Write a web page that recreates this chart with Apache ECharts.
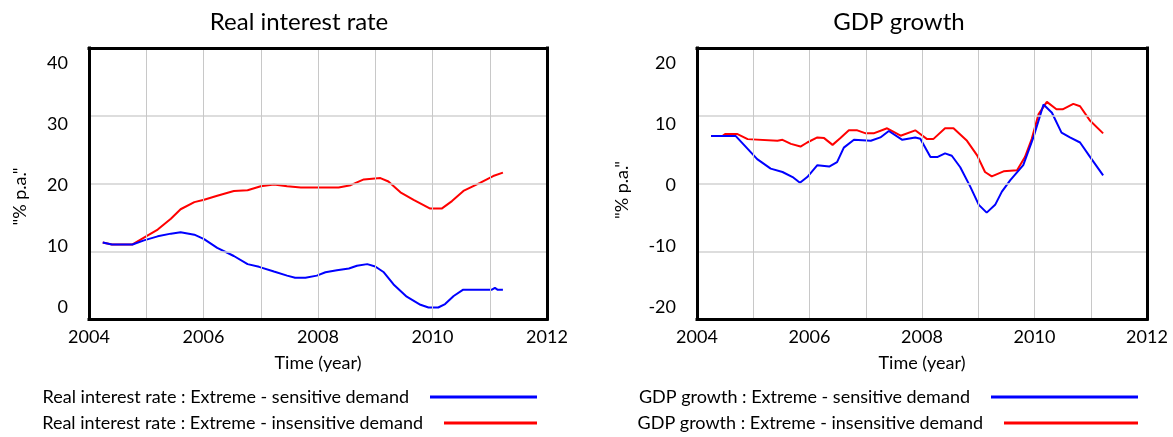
<!DOCTYPE html>
<html>
<head>
<meta charset="utf-8">
<script src="https://cdn.jsdelivr.net/npm/echarts@6/dist/echarts.min.js"></script>
<style>html,body{margin:0;padding:0;background:#fff}#c{width:1173px;height:437px}</style>
</head>
<body>
<div id="c"></div>
<script>
// ---- Data ----
const titles = ["Real interest rate", "GDP growth"];
const yAxisName = '"% p.a."';
const xAxisName = "Time (year)";
const xTicks = [2004, 2006, 2008, 2010, 2012];
const rateTicks = [0, 10, 20, 30, 40];
const gdpTicks = [-20, -10, 0, 10, 20];
const seriesNames = [
  "Real interest rate : Extreme - sensitive demand",
  "Real interest rate : Extreme - insensitive demand",
  "GDP growth : Extreme - sensitive demand",
  "GDP growth : Extreme - insensitive demand"
];
const rateSensitive = [[2004.24,11.3],[2004.4,11.0],[2004.76,11.0],[2004.96,11.6],[2005.2,12.2],[2005.43,12.6],[2005.6,12.8],[2005.84,12.45],[2006.01,11.8],[2006.24,10.5],[2006.53,9.3],[2006.77,8.1],[2006.97,7.7],[2007.23,7.0],[2007.46,6.4],[2007.6,6.1],[2007.78,6.1],[2007.98,6.4],[2008.13,6.9],[2008.33,7.2],[2008.54,7.45],[2008.68,7.85],[2008.86,8.1],[2009.0,7.75],[2009.15,6.9],[2009.32,5.1],[2009.55,3.3],[2009.79,2.1],[2009.93,1.7],[2010.1,1.7],[2010.22,2.2],[2010.37,3.4],[2010.53,4.3],[2011.03,4.3],[2011.09,4.6],[2011.14,4.3],[2011.23,4.3]];
const rateInsensitive = [[2004.24,11.3],[2004.4,11.0],[2004.76,11.0],[2004.96,12.0],[2005.2,13.2],[2005.43,14.8],[2005.6,16.2],[2005.84,17.25],[2006.01,17.6],[2006.24,18.2],[2006.53,18.9],[2006.77,19.0],[2007.0,19.6],[2007.23,19.85],[2007.46,19.6],[2007.7,19.4],[2008.36,19.4],[2008.57,19.75],[2008.8,20.6],[2009.09,20.8],[2009.23,20.3],[2009.44,18.7],[2009.67,17.6],[2009.96,16.3],[2010.16,16.3],[2010.34,17.4],[2010.54,18.9],[2010.83,20.1],[2011.06,21.1],[2011.23,21.6]];
const gdpSensitive = [[2004.25,7.0],[2004.69,7.0],[2004.93,4.85],[2005.07,3.6],[2005.31,2.2],[2005.52,1.7],[2005.7,0.95],[2005.83,0.1],[2005.96,0.95],[2006.14,2.7],[2006.35,2.5],[2006.49,3.15],[2006.61,5.3],[2006.79,6.45],[2007.09,6.3],[2007.26,6.8],[2007.41,7.75],[2007.65,6.45],[2007.88,6.8],[2007.97,6.6],[2008.15,3.9],[2008.27,3.9],[2008.41,4.45],[2008.53,4.1],[2008.68,2.4],[2008.86,-0.5],[2009.01,-3.15],[2009.15,-4.3],[2009.3,-3.15],[2009.42,-1.2],[2009.57,0.5],[2009.8,2.7],[2009.98,6.8],[2010.16,11.65],[2010.31,10.45],[2010.48,7.5],[2010.63,6.8],[2010.81,6.05],[2010.99,3.9],[2011.22,1.2]];
const gdpInsensitive = [[2004.25,7.0],[2004.45,7.0],[2004.5,7.3],[2004.72,7.3],[2004.9,6.55],[2005.43,6.3],[2005.52,6.45],[2005.67,5.85],[2005.84,5.45],[2005.96,6.05],[2006.14,6.8],[2006.26,6.7],[2006.41,5.7],[2006.55,6.7],[2006.7,7.85],[2006.85,7.85],[2007.0,7.4],[2007.14,7.4],[2007.38,8.15],[2007.62,7.05],[2007.88,7.85],[2008.09,6.55],[2008.2,6.55],[2008.41,8.15],[2008.56,8.15],[2008.8,6.3],[2008.98,4.15],[2009.12,1.7],[2009.24,1.05],[2009.45,1.8],[2009.69,1.95],[2009.83,3.9],[2009.95,6.55],[2010.07,10.2],[2010.22,12.05],[2010.39,10.95],[2010.5,10.95],[2010.69,11.75],[2010.81,11.4],[2010.99,9.25],[2011.22,7.4]];

// ---- Styling ----
const FONT = 'Lato';
const BLUE = '#0000ff', RED = '#ff0000';
const FRAME = {show: true, onZero: false, lineStyle: {color: '#000', width: 3, cap: 'square'}};
const grids = [
  {left: 89, top: 48, width: 458, height: 271},
  {left: 697, top: 48, width: 450, height: 271}
];
// label offsets (Vensim spreads y labels inside the frame)
const labelPads = [[0,0,24,0],[0,0,10,0],[3,0,0,0],[16,0,0,0],[30,0,0,0]];
const rich = {};
labelPads.forEach((p, i) => { rich['p' + i] = {padding: p, fontSize: 18, fontFamily: FONT, color: '#000'}; });

function xAxis(gi) {
  return {
    type: 'value', gridIndex: gi, position: 'bottom', min: xTicks[0], max: xTicks[xTicks.length - 1], interval: 1,
    name: xAxisName, nameLocation: 'middle', nameGap: 35,
    nameTextStyle: {fontFamily: FONT, fontSize: 18, color: '#000'},
    axisLine: FRAME, axisTick: {show: false}, z: 5,
    axisLabel: {margin: 9, fontFamily: FONT, fontSize: 18, color: '#000',
      formatter: v => xTicks.indexOf(v) >= 0 ? String(v) : ''},
    splitLine: {show: true, showMinLine: false, showMaxLine: false, lineStyle: {color: '#c8c8c8', width: 1}}
  };
}
function xFrame(gi) {
  return {type: 'value', gridIndex: gi, position: 'top', min: xTicks[0], max: xTicks[xTicks.length - 1],
    axisLine: FRAME, axisTick: {show: false}, axisLabel: {show: false}, splitLine: {show: false}, z: 5};
}
function yAxis(gi, ticks, gap, shift) {
  return {
    type: 'value', gridIndex: gi, position: 'left', min: ticks[0], max: ticks[ticks.length - 1], interval: 10,
    name: yAxisName, nameLocation: 'middle', nameGap: gap, nameRotate: 90,
    nameTextStyle: {fontFamily: FONT, fontSize: 18, color: '#000', padding: [0, shift, 0, 0]},
    axisLine: FRAME, axisTick: {show: false}, z: 5,
    axisLabel: {margin: 21, formatter: v => '{p' + ticks.indexOf(v) + '|' + v + '}', rich: rich},
    splitLine: {show: true, showMinLine: false, showMaxLine: false, lineStyle: {color: '#d2d2d2', width: 1.5}}
  };
}
function yFrame(gi, ticks) {
  return {type: 'value', gridIndex: gi, position: 'right', min: ticks[0], max: ticks[ticks.length - 1],
    axisLine: FRAME, axisTick: {show: false}, axisLabel: {show: false}, splitLine: {show: false}, z: 5};
}
function legend(name, right, top, w) {
  return {
    data: [name], right: right, top: top, align: 'right', orient: 'horizontal',
    icon: 'rect', itemWidth: w, itemHeight: 3, padding: 0, selectedMode: false,
    textStyle: {fontFamily: FONT, fontSize: 18, color: '#000', padding: [0, 16, 0, 0]}
  };
}
function line(name, gi, data, color, z) {
  return {
    type: 'line', name: name, xAxisIndex: gi, yAxisIndex: gi, data: data,
    showSymbol: false, symbol: 'none', color: color, z: z,
    lineStyle: {color: color, width: 2}, animation: false
  };
}

const chart = echarts.init(document.getElementById('c'), null, {renderer: 'canvas'});
chart.setOption({
  backgroundColor: '#fff',
  animation: false,
  title: [
    {text: titles[0], left: 299, top: 10, textAlign: 'center', padding: 0,
     textStyle: {fontFamily: FONT, fontSize: 24, fontWeight: 'normal', color: '#000'}},
    {text: titles[1], left: 899, top: 10, textAlign: 'center', padding: 0,
     textStyle: {fontFamily: FONT, fontSize: 24, fontWeight: 'normal', color: '#000'}}
  ],
  grid: grids.map(g => Object.assign({show: false, containLabel: false}, g)),
  xAxis: [xAxis(0), xAxis(1), xFrame(0), xFrame(1)],
  yAxis: [yAxis(0, rateTicks, 60, 26), yAxis(1, gdpTicks, 66, 13), yFrame(0, rateTicks), yFrame(1, gdpTicks)],
  legend: [
    legend(seriesNames[0], 636, 388, 107),
    legend(seriesNames[1], 636, 414, 93),
    legend(seriesNames[2], 35, 388, 147),
    legend(seriesNames[3], 35, 414, 134)
  ],
  series: [
    line(seriesNames[1], 0, rateInsensitive, RED, 2),
    line(seriesNames[0], 0, rateSensitive, BLUE, 3),
    line(seriesNames[3], 1, gdpInsensitive, RED, 2),
    line(seriesNames[2], 1, gdpSensitive, BLUE, 3)
  ]
});
</script>
</body>
</html>
